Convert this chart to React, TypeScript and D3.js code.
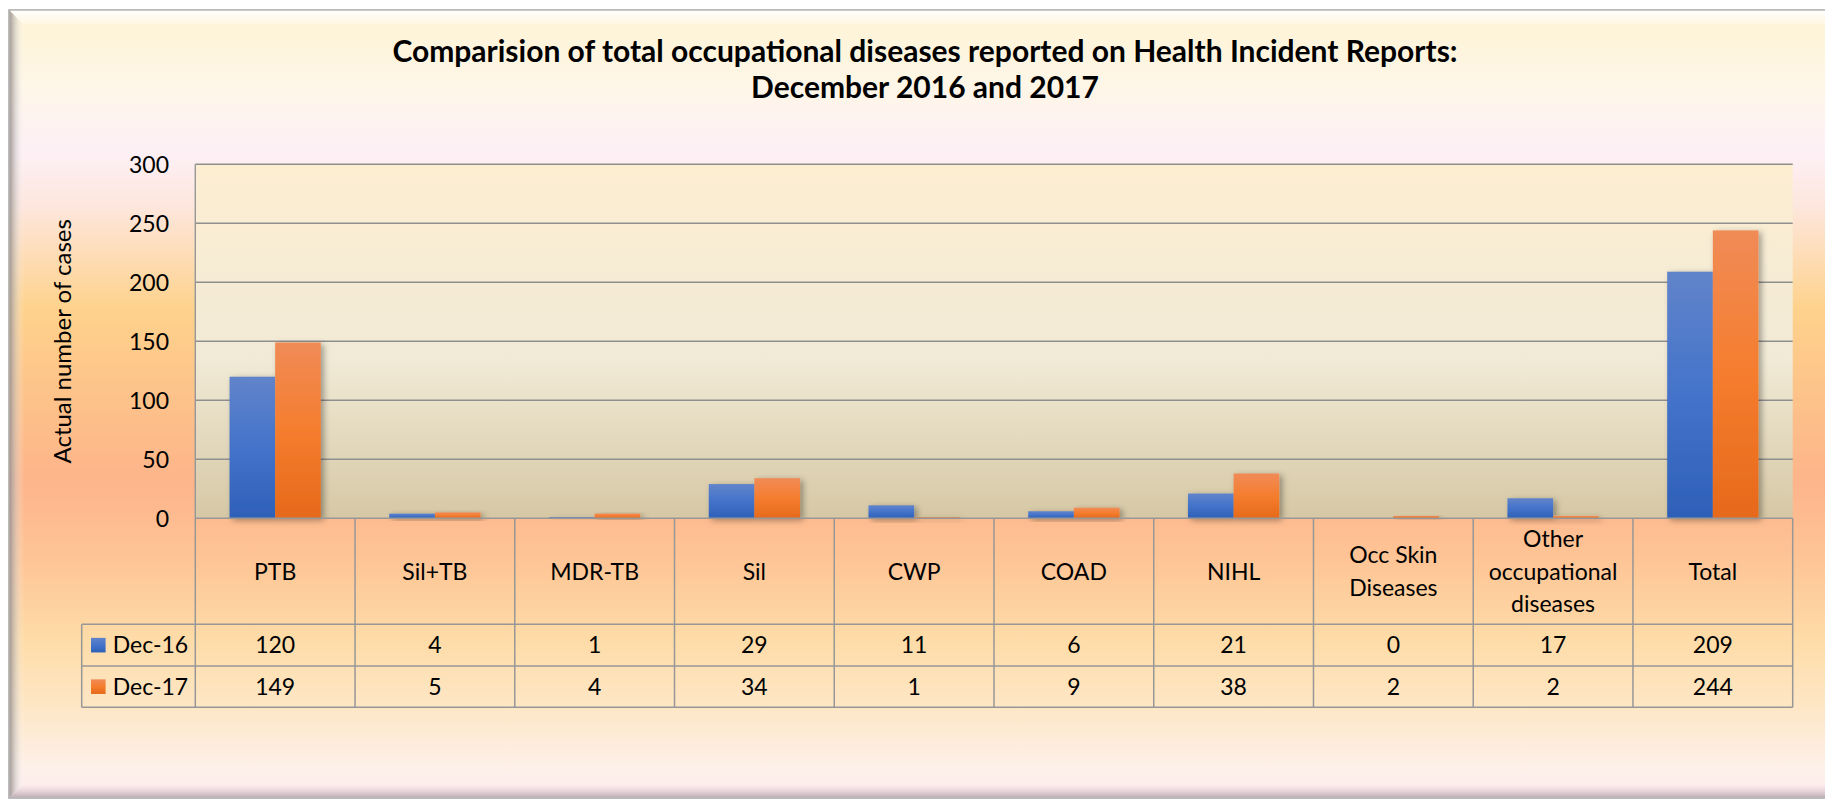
import React from 'react';
import * as d3 from 'd3';

const categories = ['PTB', 'Sil+TB', 'MDR-TB', 'Sil', 'CWP', 'COAD', 'NIHL', 'Occ Skin\nDiseases', 'Other\noccupational\ndiseases', 'Total'];
const seriesNames = ['Dec-16', 'Dec-17'];
const dec16 = [120, 4, 1, 29, 11, 6, 21, 0, 17, 209];
const dec17 = [149, 5, 4, 34, 1, 9, 38, 2, 2, 244];
const yTicks = [0, 50, 100, 150, 200, 250, 300];
const titleLines = ['Comparision of total occupational diseases reported on Health Incident Reports:', 'December 2016 and 2017'];
const yTitle = 'Actual number of cases';

const W = 1825;
const H = 803;
const font = 'Lato, "Open Sans", sans-serif';

export default function App() {
  const left = 195.3, right = 1792.7, top = 164.3, bottom = 518.3;
  const rowBottoms = [624.3, 666, 707.3];
  const legendLeft = 81.7;

  const x0 = d3.scaleBand().domain(categories).range([left, right]).paddingInner(0).paddingOuter(0);
  const x1 = d3.scaleBand().domain(seriesNames).range([0, x0.bandwidth()]).paddingInner(0).paddingOuter(0.75);
  const y = d3.scaleLinear().domain([0, 300]).range([bottom, top]);

  const values = [dec16, dec17];
  const fills = ['url(#gBlue)', 'url(#gOrange)'];
  const rowCenters = [(bottom + rowBottoms[0]) / 2, (rowBottoms[0] + rowBottoms[1]) / 2, (rowBottoms[1] + rowBottoms[2]) / 2];
  const lineColor = '#979797';
  const fs = 23;

  return (
    <svg width={W} height={H} style={{ position: 'absolute', left: 0, top: 0, display: 'block' }} fontFamily={font}>
      <defs>
        <linearGradient id="gBg" x1="0" y1="0" x2="0" y2="1">
          <stop offset="0" stopColor="#fef3d4" />
          <stop offset="0.09" stopColor="#fef6e6" />
          <stop offset="0.18" stopColor="#fdf0f6" />
          <stop offset="0.25" stopColor="#fde6dc" />
          <stop offset="0.38" stopColor="#fed28c" />
          <stop offset="0.47" stopColor="#fdc58a" />
          <stop offset="0.6" stopColor="#fdb48a" />
          <stop offset="0.7" stopColor="#fec596" />
          <stop offset="0.8" stopColor="#fedca8" />
          <stop offset="0.88" stopColor="#fee6c4" />
          <stop offset="0.96" stopColor="#fdf0e8" />
          <stop offset="1" stopColor="#fdecf0" />
        </linearGradient>
        <linearGradient id="gPlot" x1="0" y1="0" x2="0" y2="1">
          <stop offset="0" stopColor="#fdeed2" />
          <stop offset="0.55" stopColor="#f1ead6" />
          <stop offset="1" stopColor="#d6c8a5" />
        </linearGradient>
        <linearGradient id="gBlue" x1="0" y1="0" x2="0" y2="1">
          <stop offset="0" stopColor="#6184ca" />
          <stop offset="0.5" stopColor="#4473ca" />
          <stop offset="1" stopColor="#2e60b8" />
        </linearGradient>
        <linearGradient id="gOrange" x1="0" y1="0" x2="0" y2="1">
          <stop offset="0" stopColor="#f08b57" />
          <stop offset="0.5" stopColor="#f57d2e" />
          <stop offset="1" stopColor="#e6691a" />
        </linearGradient>
        <linearGradient id="gLeftEdge" x1="0" y1="0" x2="1" y2="0">
          <stop offset="0" stopColor="#9c9490" stopOpacity="0.9" />
          <stop offset="1" stopColor="#ffffff" stopOpacity="0" />
        </linearGradient>
        <linearGradient id="gTopEdge" x1="0" y1="0" x2="0" y2="1">
          <stop offset="0" stopColor="#ffffff" stopOpacity="0.95" />
          <stop offset="1" stopColor="#ffffff" stopOpacity="0.2" />
        </linearGradient>
        <linearGradient id="gBottomEdge" x1="0" y1="0" x2="0" y2="1">
          <stop offset="0" stopColor="#e8d0d8" stopOpacity="0" />
          <stop offset="1" stopColor="#b8a8b0" stopOpacity="0.9" />
        </linearGradient>
        <filter id="shadow" x="-30%" y="-30%" width="160%" height="160%">
          <feDropShadow dx="3" dy="2" stdDeviation="3" floodColor="#000" floodOpacity="0.35" />
        </filter>
      </defs>

      <rect x={0} y={0} width={W} height={H} fill="#ffffff" />
      {/* frame */}
      <rect x={9} y={10} width={W + 20} height={788} fill="url(#gBg)" stroke="#a5a5a5" strokeWidth={1.5} />
      <polygon points={`9.8,10.8 ${W},10.8 ${W},25 24,25`} fill="url(#gTopEdge)" />
      <polygon points={`9.8,10.8 24,25 24,784 9.8,797`} fill="url(#gLeftEdge)" />
      <polygon points={`9.8,797 24,784 ${W},784 ${W},797`} fill="url(#gBottomEdge)" />

      {/* title */}
      {titleLines.map((t, i) => (
        <text key={i} x={925} y={62 + i * 36} textAnchor="middle" fontSize={30} fontWeight="bold" fill="#000">{t}</text>
      ))}

      {/* plot area */}
      <rect x={left} y={top} width={right - left} height={bottom - top} fill="url(#gPlot)" />
      {yTicks.filter(t => t > 0).map(t => (
        <line key={t} x1={left} x2={right} y1={y(t)} y2={y(t)} stroke="#8f8f8f" strokeWidth={1.4} />
      ))}
      <line x1={left} x2={left} y1={top} y2={bottom} stroke={lineColor} strokeWidth={1.4} />

      {/* bars */}
      {categories.map((c, ci) => (
        <g key={c} transform={`translate(${x0(c)},0)`} filter="url(#shadow)">
          {seriesNames.map((s, si) => {
            const v = values[si][ci];
            if (v <= 0) return null;
            return <rect key={s} x={x1(s)} y={y(v)} width={x1.bandwidth()} height={y(0) - y(v)} fill={fills[si]} />;
          })}
        </g>
      ))}

      {/* y ticks */}
      {yTicks.map(t => (
        <text key={t} x={169} y={y(t)} dy="0.36em" textAnchor="end" fontSize={fs} fill="#000">{t}</text>
      ))}
      <text transform={`translate(62,${(top + bottom) / 2}) rotate(-90)`} textAnchor="middle" dy="0.36em" fontSize={24} fill="#000">{yTitle}</text>

      {/* data table */}
      <line x1={left} x2={right} y1={bottom} y2={bottom} stroke={lineColor} strokeWidth={1.5} />
      {rowBottoms.map((r, i) => (
        <line key={i} x1={legendLeft} x2={right} y1={r} y2={r} stroke={lineColor} strokeWidth={1.5} />
      ))}
      {categories.map(c => (
        <line key={c} x1={x0(c)} x2={x0(c)} y1={bottom} y2={rowBottoms[2]} stroke={lineColor} strokeWidth={1.5} />
      ))}
      <line x1={right} x2={right} y1={bottom} y2={rowBottoms[2]} stroke={lineColor} strokeWidth={1.5} />
      <line x1={legendLeft} x2={legendLeft} y1={rowBottoms[0]} y2={rowBottoms[2]} stroke={lineColor} strokeWidth={1.5} />

      {categories.map(c => {
        const lines = c.split('\n');
        const cx = (x0(c) as number) + x0.bandwidth() / 2;
        const lh = 32.5;
        return (
          <text key={c} x={cx} textAnchor="middle" fontSize={fs} fill="#000">
            {lines.map((l, li) => (
              <tspan key={li} x={cx} y={rowCenters[0] + (li - (lines.length - 1) / 2) * lh} dy="0.36em">{l}</tspan>
            ))}
          </text>
        );
      })}

      {seriesNames.map((s, si) => (
        <g key={s}>
          <rect x={91} y={rowCenters[si + 1] - 7.3} width={14.6} height={14.6} fill={fills[si]} />
          <text x={112.7} y={rowCenters[si + 1]} dy="0.36em" fontSize={fs} fill="#000">{s}</text>
          {categories.map((c, ci) => (
            <text key={c} x={(x0(c) as number) + x0.bandwidth() / 2} y={rowCenters[si + 1]} dy="0.36em" textAnchor="middle" fontSize={fs} fill="#000">
              {values[si][ci]}
            </text>
          ))}
        </g>
      ))}
    </svg>
  );
}
